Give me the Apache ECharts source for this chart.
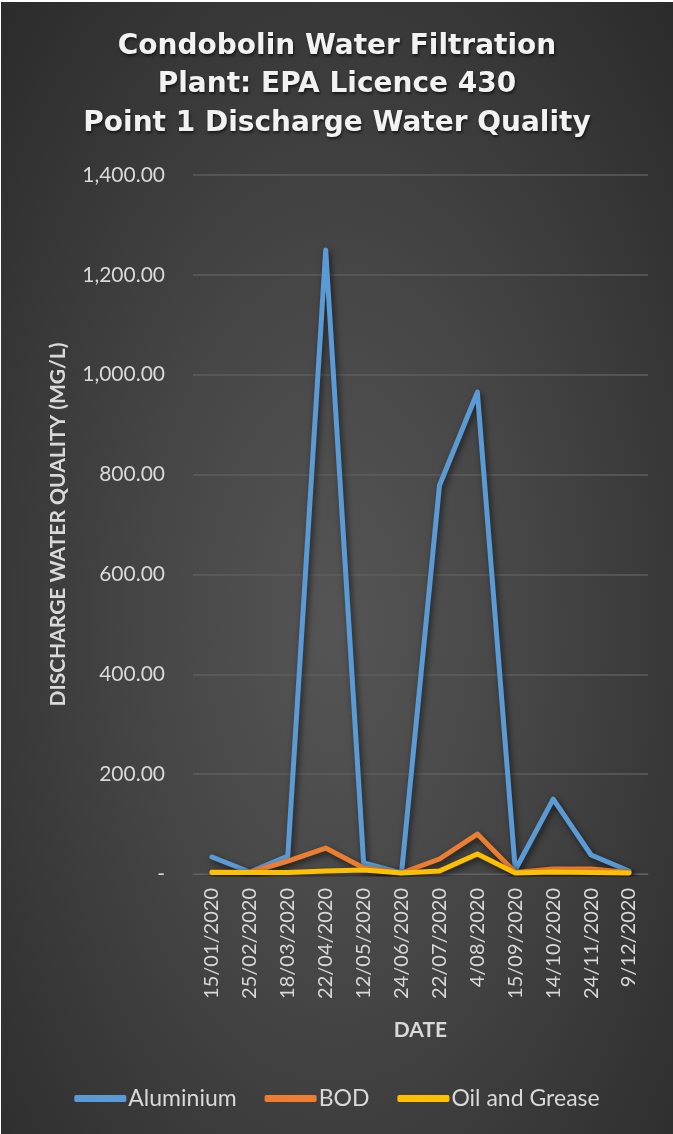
<!DOCTYPE html>
<html>
<head>
<meta charset="utf-8">
<script src="https://cdn.jsdelivr.net/npm/echarts@6/dist/echarts.min.js"></script>
<style>
html,body{margin:0;padding:0;background:#ffffff;}
#chart{position:absolute;left:1px;top:2px;width:672px;height:1132px;
background:radial-gradient(ellipse at 50% 55%, #555555 0%, #464646 40%, #2b2b2b 100%);}
</style>
</head>
<body>
<div id="chart"></div>
<script>
const categories = ['15/01/2020','25/02/2020','18/03/2020','22/04/2020','12/05/2020','24/06/2020','22/07/2020','4/08/2020','15/09/2020','14/10/2020','24/11/2020','9/12/2020'];
const aluminium = [34, 4, 36, 1250, 22, 2, 778, 965, 8, 150, 38, 6];
const bod = [4, 3, 26, 52, 12, 2, 30, 80, 3, 10, 10, 3];
const oilGrease = [3, 3, 3, 6, 8, 2, 6, 40, 2, 4, 3, 2];
const yTicks = [0, 200, 400, 600, 800, 1000, 1200, 1400];
const titleLines = ['Condobolin Water Filtration', 'Plant: EPA Licence 430', 'Point 1 Discharge Water Quality'];

const chart = echarts.init(document.getElementById('chart'), null, {renderer:'canvas'});
const font = 'Lato, "Open Sans", "Noto Sans", sans-serif';
const shadow = {shadowColor:'rgba(0,0,0,0.6)', shadowBlur:6, shadowOffsetX:2, shadowOffsetY:3};
function mk(name, data, color){
  return {name, type:'line', data, symbol:'none', smooth:false,
    lineStyle:Object.assign({width:5, color, cap:'round', join:'round'}, shadow),
    itemStyle:{color}};
}
chart.setOption({
  animation:false,
  backgroundColor:'transparent',
  title:{text:titleLines.join('\n'), left:'center', top:20,
    textStyle:{color:'#f2f2f2', fontSize:28, fontWeight:'bold', fontFamily:'"DejaVu Sans", sans-serif', lineHeight:38.5,
      textShadowColor:'rgba(0,0,0,0.6)', textShadowBlur:3, textShadowOffsetX:1, textShadowOffsetY:2}},
  legend:{bottom:19, left:'center', itemWidth:52, itemHeight:7, itemGap:28, icon:'roundRect',
    textStyle:{color:'#d9d9d9', fontSize:23, fontFamily:font, padding:[0,0,0,-3]}},
  grid:{left:192, right:25, top:173, bottom:260, containLabel:false},
  xAxis:{type:'category', data:categories, boundaryGap:true,
    name:'DATE', nameLocation:'middle', nameGap:146,
    nameTextStyle:{color:'#d9d9d9', fontSize:21, fontWeight:'bold', fontFamily:font},
    axisLine:{lineStyle:{color:'#5e5e5e', width:1}},
    axisTick:{show:false},
    axisLabel:{rotate:90, color:'#d9d9d9', fontSize:20, fontFamily:font, margin:14, interval:0}},
  yAxis:{type:'value', min:0, max:1400, interval:200,
    name:'DISCHARGE WATER QUALITY (MG/L)', nameLocation:'middle', nameGap:124, nameRotate:90,
    nameTextStyle:{color:'#d9d9d9', fontSize:21, fontWeight:'bold', fontFamily:font},
    axisLine:{show:false}, axisTick:{show:false},
    splitLine:{lineStyle:{color:'#5e5e5e', width:1.5}},
    axisLabel:{color:'#d9d9d9', fontSize:21, fontFamily:font, margin:28,
      formatter:function(v){ return v===0 ? '-' : v.toLocaleString('en-US',{minimumFractionDigits:2, maximumFractionDigits:2}); }}},
  series:[mk('Aluminium', aluminium, '#5b9bd5'), mk('BOD', bod, '#ed7d31'), mk('Oil and Grease', oilGrease, '#ffc000')]
});
</script>
</body>
</html>
